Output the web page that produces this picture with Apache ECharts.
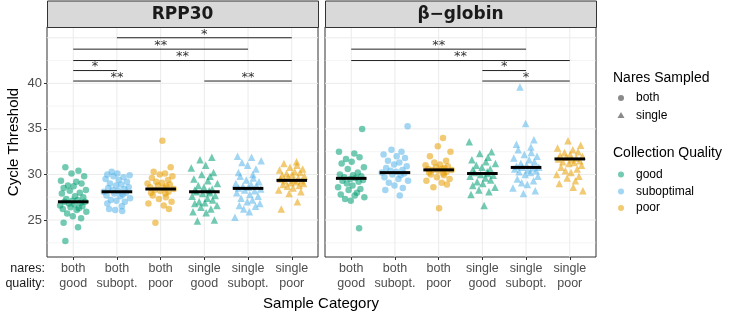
<!DOCTYPE html>
<html>
<head>
<meta charset="utf-8">
<script src="https://cdn.jsdelivr.net/npm/echarts@6/dist/echarts.min.js"></script>
<style>
html,body{margin:0;padding:0;background:#fff}
#chart{width:735px;height:313px}
</style>
</head>
<body>
<div id="chart"></div>
<script>
// panels, categories, ticks
var panels = ['RPP30', 'β−globin'];
var catNares = ['both', 'both', 'both', 'single', 'single', 'single'];
var catQuality = ['good', 'subopt.', 'poor', 'good', 'subopt.', 'poor'];
var qualityOf = ['good', 'suboptimal', 'poor', 'good', 'suboptimal', 'poor'];
var yTicks = [25, 30, 35, 40];
var yGrid = [22.5, 25, 27.5, 30, 32.5, 35, 37.5, 40, 42.5, 45];
var yMin = 20.94, yMax = 46.18;

// RPP30 values (Cycle Threshold) per category
var rppBothGood = [30.8, 30.4, 30.1, 29.8, 29.3, 29.2, 29.0, 28.8, 28.7, 28.5, 28.3, 28.2, 28.0, 27.9, 27.6, 27.5, 27.3, 27.2, 27.1, 27.0, 27.0, 26.9, 26.8, 26.7, 26.6, 26.5, 26.4, 26.3, 26.2, 26.1, 25.9, 25.7, 25.4, 25.2, 24.7, 24.2, 22.7];
var rppBothSub = [30.3, 30.1, 30.0, 29.9, 29.8, 29.7, 29.5, 29.4, 29.2, 29.0, 28.9, 28.8, 28.6, 28.5, 28.4, 28.3, 28.2, 28.1, 28.0, 27.9, 27.8, 27.7, 27.6, 27.4, 27.2, 27.1, 27.0, 26.8, 26.5, 26.2, 26.0, 26.1];
var rppBothPoor = [33.7, 30.8, 30.3, 30.1, 30.0, 29.8, 29.6, 29.4, 29.2, 29.1, 29.0, 28.9, 28.8, 28.7, 28.6, 28.5, 28.4, 28.3, 28.2, 28.1, 28.0, 27.9, 27.7, 27.5, 27.3, 27.0, 26.8, 26.6, 26.2, 24.7];
var rppSingleGood = [31.9, 31.6, 31.0, 30.7, 30.2, 30.0, 29.8, 29.5, 29.3, 29.0, 28.8, 28.6, 28.4, 28.3, 28.2, 28.1, 28.0, 27.9, 27.7, 27.6, 27.4, 27.2, 27.0, 26.9, 26.8, 26.6, 26.4, 26.2, 25.9, 25.8, 25.0, 24.9];
var rppSingleSub = [32.0, 31.9, 31.5, 31.3, 31.0, 30.6, 30.2, 30.0, 29.8, 29.6, 29.4, 29.2, 29.0, 28.9, 28.8, 28.7, 28.6, 28.5, 28.4, 28.3, 28.2, 28.0, 27.8, 27.6, 27.4, 27.2, 27.0, 26.8, 26.6, 26.5, 26.2, 25.9, 25.3];
var rppSinglePoor = [31.4, 31.2, 31.0, 30.8, 30.6, 30.5, 30.3, 30.2, 30.1, 30.0, 29.9, 29.8, 29.7, 29.6, 29.5, 29.4, 29.3, 29.3, 29.2, 29.1, 29.0, 28.9, 28.8, 28.7, 28.5, 28.3, 28.1, 27.9, 27.0, 26.2];
var rppMedian = [27.0, 28.1, 28.4, 28.1, 28.47, 29.35];

// beta-globin values
var hbbBothGood = [35.0, 32.5, 32.3, 31.9, 31.7, 31.4, 31.2, 30.8, 30.6, 30.2, 30.0, 29.9, 29.8, 29.7, 29.6, 29.5, 29.4, 29.3, 29.2, 29.0, 28.8, 28.6, 28.4, 28.3, 28.0, 27.8, 27.7, 27.5, 27.3, 27.1, 24.1];
var hbbBothSub = [35.3, 32.7, 32.5, 32.2, 32.0, 31.8, 31.5, 31.3, 31.1, 30.9, 30.7, 30.5, 30.4, 30.3, 30.2, 30.1, 30.0, 29.9, 29.7, 29.5, 29.3, 29.1, 28.8, 28.5, 28.3, 27.7];
var hbbBothPoor = [34.0, 33.1, 32.5, 32.0, 31.5, 31.3, 31.1, 31.0, 30.9, 30.8, 30.7, 30.6, 30.6, 30.5, 30.5, 30.4, 30.3, 30.2, 30.1, 30.0, 29.9, 29.7, 29.5, 29.3, 29.1, 28.9, 28.6, 26.3];
var hbbSingleGood = [33.6, 32.5, 32.3, 31.9, 31.6, 31.4, 31.2, 31.0, 30.8, 30.6, 30.5, 30.3, 30.2, 30.1, 30.0, 29.9, 29.8, 29.6, 29.4, 29.2, 29.0, 28.8, 28.6, 28.3, 28.1, 27.8, 26.6];
var hbbSingleSub = [39.6, 35.6, 33.8, 33.3, 33.0, 32.7, 32.4, 32.2, 32.0, 31.8, 31.6, 31.4, 31.2, 31.0, 30.9, 30.8, 30.8, 30.7, 30.6, 30.5, 30.4, 30.3, 30.2, 30.0, 29.8, 29.5, 29.3, 29.1, 28.9, 28.5, 28.2, 27.9];
var hbbSinglePoor = [33.7, 33.2, 32.9, 32.7, 32.5, 32.4, 32.2, 32.1, 32.0, 31.9, 31.8, 31.7, 31.6, 31.5, 31.4, 31.3, 31.2, 31.0, 30.8, 30.6, 30.4, 30.2, 30.0, 29.8, 29.6, 29.3, 29.0, 28.6, 28.2];
var hbbMedian = [29.57, 30.2, 30.5, 30.1, 30.77, 31.7];

// significance brackets: [from category, to category, height, label]
var rppSig = [[2, 6, 45.0, '*'], [1, 5, 43.75, '**'], [1, 6, 42.5, '**'], [1, 2, 41.4, '*'], [1, 3, 40.25, '**'], [4, 6, 40.25, '**']];
var hbbSig = [[1, 5, 43.75, '**'], [1, 6, 42.5, '**'], [4, 5, 41.4, '*'], [4, 6, 40.25, '*']];

// fixed horizontal jitter pattern (category units)
var jitterX = [-0.18, 0.12, -0.04, 0.25, -0.28, 0.07, 0.19, -0.12, 0.01, -0.22, 0.29, -0.08, 0.15, -0.26, 0.04, 0.23, -0.16, 0.1, -0.02, 0.27, -0.2, 0.17, -0.1, 0.03, -0.3, 0.21, -0.06, 0.13, -0.24, 0.08, 0.3, -0.14, -0.01, 0.18, -0.22, 0.11];

var qualityColor = {good: '#009E73', suboptimal: '#56B4E9', poor: '#E69F00'};

var panelValues = [
  [rppBothGood, rppBothSub, rppBothPoor, rppSingleGood, rppSingleSub, rppSinglePoor],
  [hbbBothGood, hbbBothSub, hbbBothPoor, hbbSingleGood, hbbSingleSub, hbbSinglePoor]
];
var panelMedian = [rppMedian, hbbMedian];
var panelSig = [rppSig, hbbSig];

var gridLeft = [47, 325], gridTop = 27, gridW = 271, gridH = 230;

var myChart = echarts.init(document.getElementById('chart'));

var grids = [], xAxes = [], yAxes = [], series = [];
for (var p = 0; p < 2; p++) {
  grids.push({left: gridLeft[p], top: gridTop, width: gridW, height: gridH,
    show: true, borderColor: '#333333', borderWidth: 1, backgroundColor: '#fff'});
  xAxes.push({
    type: 'value', gridIndex: p, min: 0.4, max: 6.6,
    axisLine: {show: false},
    splitLine: {show: false},
    axisTick: {show: true, length: 3, customValues: [1, 2, 3, 4, 5, 6], lineStyle: {color: '#333'}},
    axisLabel: {
      customValues: [1, 2, 3, 4, 5, 6], margin: 4,
      fontFamily: 'Liberation Sans', fontSize: 12.5, color: '#4D4D4D', lineHeight: 15,
      formatter: function (v) { var i = Math.round(v) - 1; return catNares[i] + '\n' + catQuality[i]; }
    }
  });
  yAxes.push({
    type: 'value', gridIndex: p, min: yMin, max: yMax,
    axisLine: {show: false},
    splitLine: {show: false},
    axisTick: {show: p === 0, length: 3, customValues: yTicks, lineStyle: {color: '#333'}},
    axisLabel: {show: p === 0, customValues: yTicks, margin: 5,
      fontFamily: 'Liberation Sans', fontSize: 13, color: '#4D4D4D'}
  });

  // gridlines
  var gl = [];
  yGrid.forEach(function (v) { gl.push(['h', v, v % 5 === 0 ? 1 : 0.5]); });
  [1, 2, 3, 4, 5, 6].forEach(function (v) { gl.push(['v', v, 1]); });
  series.push({
    type: 'custom', xAxisIndex: p, yAxisIndex: p, z: 0, silent: true,
    data: gl,
    renderItem: function (params, api) {
      var kind = api.value(0), v = api.value(1), w = api.value(2);
      var a, b;
      if (kind === 'h') { a = api.coord([0.4, v]); b = api.coord([6.6, v]); }
      else { a = api.coord([v, yMin]); b = api.coord([v, yMax]); }
      return {type: 'line', shape: {x1: a[0], y1: a[1], x2: b[0], y2: b[1]},
        style: {stroke: '#EBEBEB', lineWidth: w}};
    },
    encode: {x: 1, y: 1}
  });

  // points
  for (var c = 0; c < 6; c++) {
    var vals = panelValues[p][c];
    var pts = [];
    for (var k = 0; k < vals.length; k++) {
      pts.push([c + 1 + jitterX[(k + c * 7 + p * 3) % jitterX.length], vals[k]]);
    }
    series.push({
      type: 'scatter', xAxisIndex: p, yAxisIndex: p, z: 2,
      symbol: c < 3 ? 'circle' : 'triangle',
      symbolSize: c < 3 ? 6.5 : 7.5,
      itemStyle: {color: qualityColor[qualityOf[c]], opacity: 0.55},
      data: pts
    });
  }

  // median bars
  series.push({
    type: 'custom', xAxisIndex: p, yAxisIndex: p, z: 3, silent: true,
    data: panelMedian[p].map(function (m, i) { return [i + 1, m]; }),
    renderItem: function (params, api) {
      var a = api.coord([api.value(0) - 0.35, api.value(1)]);
      var b = api.coord([api.value(0) + 0.35, api.value(1)]);
      return {type: 'line', shape: {x1: a[0], y1: a[1], x2: b[0], y2: b[1]},
        style: {stroke: '#000', lineWidth: 3}};
    },
    encode: {x: 0, y: 1}
  });

  // significance brackets
  series.push({
    type: 'custom', xAxisIndex: p, yAxisIndex: p, z: 4, silent: true,
    data: panelSig[p],
    renderItem: function (params, api) {
      var a = api.coord([api.value(0), api.value(2)]);
      var b = api.coord([api.value(1), api.value(2)]);
      var lab = panelSig[params.seriesIndex === 8 ? 0 : 1][params.dataIndex][3];
      return {type: 'group', children: [
        {type: 'line', shape: {x1: a[0], y1: a[1], x2: b[0], y2: b[1]},
          style: {stroke: '#222', lineWidth: 1}},
        {type: 'text', x: (a[0] + b[0]) / 2, y: a[1] + 3,
          style: {text: lab, fill: '#333', font: '13px "DejaVu Sans"',
            textAlign: 'center', textVerticalAlign: 'bottom'}}
      ]};
    },
    encode: {x: [0, 1], y: 2}
  });
}

// strips, titles, legend
var graphics = [];
for (var s = 0; s < 2; s++) {
  graphics.push({type: 'rect', left: gridLeft[s], top: 0.5,
    shape: {width: gridW, height: gridTop - 0.5},
    style: {fill: '#D9D9D9', stroke: '#333333', lineWidth: 1}, z: 10});
  graphics.push({type: 'text', x: gridLeft[s] + gridW / 2, y: 14.5, z: 11,
    style: {text: panels[s], font: 'bold 17px "DejaVu Sans"', fill: '#1A1A1A',
      textAlign: 'center', textVerticalAlign: 'middle'}});
}
graphics.push({type: 'text', x: 45, y: 268.5,
  style: {text: 'nares:', font: '12.5px "Liberation Sans"', fill: '#1A1A1A', textAlign: 'right', textVerticalAlign: 'middle'}});
graphics.push({type: 'text', x: 45, y: 283.5,
  style: {text: 'quality:', font: '12.5px "Liberation Sans"', fill: '#1A1A1A', textAlign: 'right', textVerticalAlign: 'middle'}});
graphics.push({type: 'text', x: 321, y: 304,
  style: {text: 'Sample Category', font: '15px "Liberation Sans"', fill: '#000', textAlign: 'center', textVerticalAlign: 'middle'}});
graphics.push({type: 'text', x: 14, y: 142, rotation: Math.PI / 2,
  style: {text: 'Cycle Threshold', font: '15px "Liberation Sans"', fill: '#000', textAlign: 'center', textVerticalAlign: 'middle'}});

// legend: Nares Sampled
graphics.push({type: 'text', x: 613, y: 78,
  style: {text: 'Nares Sampled', font: '14px "Liberation Sans"', fill: '#000', textVerticalAlign: 'middle'}});
var shapeItems = [['both', 'circle', 98], ['single', 'triangle', 115.5]];
shapeItems.forEach(function (it) {
  if (it[1] === 'circle') {
    graphics.push({type: 'circle', shape: {cx: 621, cy: it[2], r: 3}, style: {fill: '#8A8A8A'}});
  } else {
    graphics.push({type: 'polygon', shape: {points: [[621, it[2] - 3.5], [617.5, it[2] + 2.5], [624.5, it[2] + 2.5]]}, style: {fill: '#8A8A8A'}});
  }
  graphics.push({type: 'text', x: 636, y: it[2],
    style: {text: it[0], font: '12px "Liberation Sans"', fill: '#000', textVerticalAlign: 'middle'}});
});
// legend: Collection Quality
graphics.push({type: 'text', x: 613, y: 153,
  style: {text: 'Collection Quality', font: '14px "Liberation Sans"', fill: '#000', textVerticalAlign: 'middle'}});
[['good', 174.5], ['suboptimal', 191.5], ['poor', 208]].forEach(function (it) {
  graphics.push({type: 'circle', shape: {cx: 621, cy: it[1], r: 3},
    style: {fill: qualityColor[it[0]], opacity: 0.55}});
  graphics.push({type: 'text', x: 636, y: it[1],
    style: {text: it[0], font: '12px "Liberation Sans"', fill: '#000', textVerticalAlign: 'middle'}});
});

var option = {
  animation: false,
  backgroundColor: '#fff',
  grid: grids,
  xAxis: xAxes,
  yAxis: yAxes,
  series: series,
  graphic: graphics
};
myChart.setOption(option);
</script>
</body>
</html>
